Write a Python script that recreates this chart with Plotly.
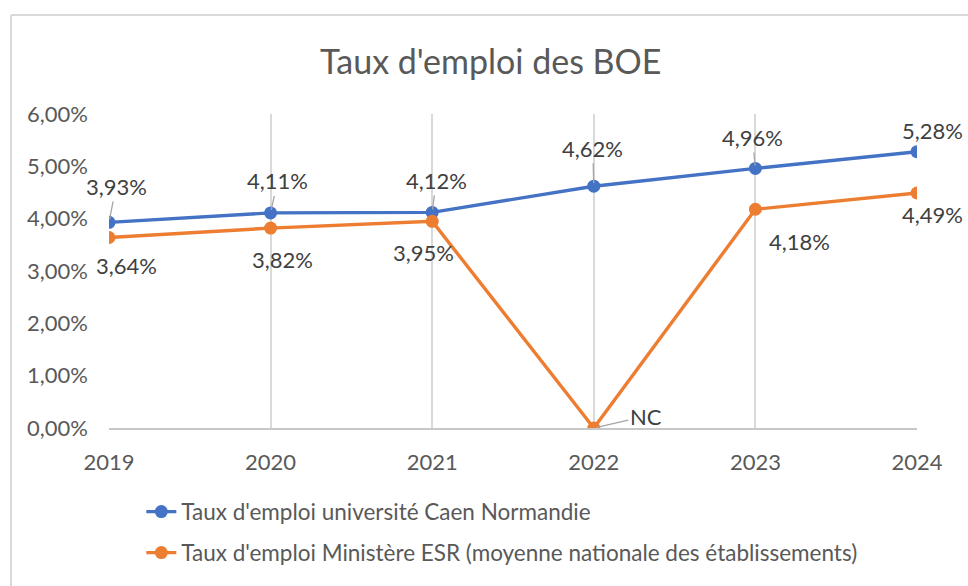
import plotly.graph_objects as go

years = [2019, 2020, 2021, 2022, 2023, 2024]
caen = [3.93, 4.11, 4.12, 4.62, 4.96, 5.28]
esr = [3.64, 3.82, 3.95, 0.00, 4.18, 4.49]
esr_labels = ["3,64%", "3,82%", "3,95%", "NC", "4,18%", "4,49%"]
caen_labels = [f"{v:.2f}".replace(".", ",") + "%" for v in caen]

BLUE = "#4472C4"
ORANGE = "#ED7D31"
FONT = "Lato"
TICK_COL = "#595959"
LAB_COL = "#404040"
FS = 22
FS_LEG = 22.5

fig = go.Figure()
fig.add_trace(go.Scatter(
    x=years, y=[v / 100 for v in caen], mode="lines+markers",
    name="Taux d'emploi université Caen Normandie",
    line=dict(color=BLUE, width=3.4), marker=dict(color=BLUE, size=13),
    legend="legend"))
fig.add_trace(go.Scatter(
    x=years, y=[v / 100 for v in esr], mode="lines+markers",
    name="Taux d'emploi Ministère ESR (moyenne nationale des établissements)",
    line=dict(color=ORANGE, width=3.4), marker=dict(color=ORANGE, size=13),
    legend="legend2"))

# label offsets in pixels (dx, dy, leader line)
caen_off = [(7, -36, True), (7, -32, True), (4, -32, True), (-1, -38, True), (-3, -31, True), (15, -21, False)]
esr_off = [(17, 28, False), (12, 31, False), (-9, 31, False), (52, -12, True), (44, 32, False), (15, 21, False)]

annotations = []
for series, labels, offs in ((caen, caen_labels, caen_off), (esr, esr_labels, esr_off)):
    for x, v, t, (dx, dy, lead) in zip(years, series, labels, offs):
        if lead:
            annotations.append(dict(
                x=x, y=v / 100, xref="x", yref="y", text=t, showarrow=True,
                ax=dx, ay=dy, axref="pixel", ayref="pixel",
                arrowhead=0, arrowwidth=1.3, arrowcolor="#a6a6a6", standoff=3,
                font=dict(family=FONT, size=FS, color=LAB_COL)))
        else:
            annotations.append(dict(
                x=x, y=v / 100, xref="x", yref="y", text=t, showarrow=False,
                xshift=dx, yshift=-dy,
                font=dict(family=FONT, size=FS, color=LAB_COL)))

fig.update_layout(
    width=968, height=586,
    margin=dict(l=109, r=51, t=114, b=158),
    paper_bgcolor="white", plot_bgcolor="white",
    separators=", ",
    font=dict(family=FONT, size=FS, color=TICK_COL),
    title=dict(text="Taux d'emploi des BOE", x=0.507, xanchor="center",
               y=1 - 62 / 586, yanchor="middle", yref="container",
               font=dict(family=FONT, size=34, color=TICK_COL)),
    xaxis=dict(range=[2019, 2024], tickmode="array", tickvals=years,
               ticktext=[str(y) for y in years],
               showgrid=True, gridcolor="#d9d9d9", gridwidth=1.5,
               showline=True, linecolor="#c8c8c8", linewidth=1.5,
               zeroline=False, ticks="", ticklabelstandoff=14,
               tickfont=dict(family=FONT, size=FS, color=TICK_COL)),
    yaxis=dict(range=[0, 0.06], dtick=0.01, tickformat=".2%",
               showgrid=False, zeroline=False, showline=False, ticks="",
               ticklabelstandoff=20,
               tickfont=dict(family=FONT, size=FS, color=TICK_COL)),
    legend=dict(x=0.04, xanchor="left", y=-0.2675, yanchor="middle",
                font=dict(family=FONT, size=FS_LEG, color=TICK_COL),
                bgcolor="rgba(0,0,0,0)"),
    legend2=dict(x=0.04, xanchor="left", y=-0.398, yanchor="middle",
                 font=dict(family=FONT, size=FS_LEG, color=TICK_COL),
                 bgcolor="rgba(0,0,0,0)"),
    annotations=annotations,
    showlegend=True,
    shapes=[
        dict(type="line", xref="paper", yref="paper", x0=-0.1213, x1=-0.1213,
             y0=-0.6, y1=1.3153, line=dict(color="#d9d9d9", width=2)),
        dict(type="line", xref="paper", yref="paper", x0=-0.1213, x1=1.1,
             y0=1.3153, y1=1.3153, line=dict(color="#d9d9d9", width=2)),
    ],
)

fig.write_html("out.html", config={"displayModeBar": False},
               post_script="document.body.style.margin='0px';")
